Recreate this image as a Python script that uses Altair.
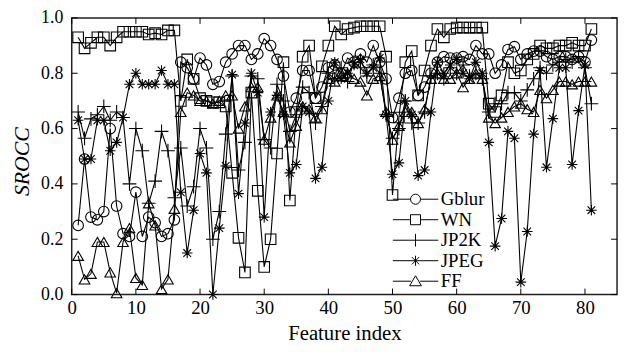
import altair as alt
import pandas as pd

series_names = ["Gblur", "WN", "JP2K", "JPEG", "FF"]
feature_index = list(range(1, 82))

gblur = [0.25, 0.49, 0.28, 0.27, 0.30, 0.60, 0.32, 0.22, 0.21, 0.37,
         0.21, 0.28, 0.26, 0.21, 0.22, 0.27, 0.84, 0.82, 0.78, 0.855,
         0.83, 0.76, 0.77, 0.84, 0.87, 0.90, 0.90, 0.85, 0.87, 0.925,
         0.90, 0.85, 0.79, 0.66, 0.71, 0.81, 0.81, 0.71, 0.75, 0.82,
         0.83, 0.80, 0.855, 0.84, 0.87, 0.84, 0.90, 0.84, 0.78, 0.64,
         0.71, 0.80, 0.81, 0.72, 0.75, 0.80, 0.84, 0.86, 0.855, 0.855,
         0.86, 0.85, 0.90, 0.87, 0.87, 0.80, 0.83, 0.886, 0.896, 0.85,
         0.87, 0.88, 0.88, 0.86, 0.85, 0.86, 0.86, 0.85, 0.86, 0.84, 0.92]
wn = [0.93, 0.89, 0.91, 0.93, 0.93, 0.90, 0.93, 0.95, 0.95, 0.95,
      0.95, 0.94, 0.945, 0.94, 0.955, 0.955, 0.70, 0.85, 0.78, 0.71,
      0.70, 0.695, 0.695, 0.68, 0.44, 0.205, 0.08, 0.73, 0.375, 0.10,
      0.20, 0.51, 0.84, 0.34, 0.66, 0.86, 0.90, 0.71, 0.825, 0.90,
      0.97, 0.94, 0.96, 0.965, 0.97, 0.97, 0.97, 0.97, 0.86, 0.36,
      0.64, 0.84, 0.88, 0.72, 0.81, 0.90, 0.96, 0.93, 0.96, 0.965,
      0.965, 0.965, 0.965, 0.965, 0.69, 0.66, 0.72, 0.84, 0.80, 0.81,
      0.85, 0.87, 0.90, 0.89, 0.89, 0.90, 0.90, 0.91, 0.90, 0.90, 0.96]
jp2k = [0.66, 0.565, 0.635, 0.65, 0.68, 0.63, 0.66, 0.64, 0.40, 0.60,
        0.52, 0.33, 0.41, 0.59, 0.52, 0.35, 0.53, 0.32, 0.39, 0.60,
        0.53, 0.20, 0.30, 0.58, 0.79, 0.45, 0.55, 0.79, 0.78, 0.56,
        0.53, 0.76, 0.70, 0.59, 0.65, 0.75, 0.73, 0.62, 0.68, 0.80,
        0.78, 0.82, 0.77, 0.84, 0.82, 0.79, 0.83, 0.80, 0.65, 0.565,
        0.60, 0.70, 0.62, 0.62, 0.66, 0.79, 0.80, 0.78, 0.82, 0.80,
        0.83, 0.79, 0.80, 0.78, 0.66, 0.69, 0.69, 0.73, 0.73, 0.70,
        0.74, 0.78, 0.82, 0.80, 0.83, 0.84, 0.85, 0.84, 0.86, 0.82, 0.69]
jpeg = [0.63, 0.49, 0.49, 0.63, 0.63, 0.52, 0.55, 0.64, 0.76, 0.80,
        0.76, 0.76, 0.76, 0.81, 0.76, 0.76, 0.37, 0.15, 0.305, 0.51,
        0.44, 0.00, 0.24, 0.465, 0.795, 0.365, 0.62, 0.80, 0.73, 0.28,
        0.66, 0.72, 0.65, 0.44, 0.47, 0.68, 0.66, 0.42, 0.46, 0.70,
        0.84, 0.78, 0.80, 0.83, 0.85, 0.80, 0.82, 0.855, 0.65, 0.435,
        0.476, 0.70, 0.65, 0.43, 0.45, 0.66, 0.84, 0.80, 0.83, 0.85,
        0.80, 0.78, 0.84, 0.80, 0.55, 0.175, 0.275, 0.59, 0.565, 0.045,
        0.228, 0.58, 0.81, 0.46, 0.636, 0.82, 0.82, 0.47, 0.665, 0.83, 0.305]
ff = [0.14, 0.055, 0.075, 0.19, 0.19, 0.08, 0.005, 0.19, 0.24, 0.06,
      0.035, 0.33, 0.25, 0.02, 0.055, 0.31, 0.66, 0.73, 0.72, 0.70,
      0.70, 0.69, 0.70, 0.72, 0.72, 0.60, 0.68, 0.75, 0.75, 0.56,
      0.64, 0.72, 0.66, 0.55, 0.61, 0.68, 0.67, 0.64, 0.67, 0.78,
      0.77, 0.79, 0.80, 0.78, 0.77, 0.72, 0.78, 0.79, 0.66, 0.56,
      0.61, 0.66, 0.66, 0.62, 0.67, 0.78, 0.80, 0.78, 0.78, 0.80,
      0.75, 0.78, 0.80, 0.78, 0.64, 0.62, 0.64, 0.66, 0.68, 0.69,
      0.67, 0.66, 0.74, 0.71, 0.74, 0.77, 0.77, 0.76, 0.77, 0.77, 0.77]

x_ticks = [0, 10, 20, 30, 40, 50, 60, 70, 80]
y_ticks = [0.0, 0.2, 0.4, 0.6, 0.8, 1.0]

values = {"Gblur": gblur, "WN": wn, "JP2K": jp2k, "JPEG": jpeg, "FF": ff}
rows = []
for name in series_names:
    for i, v in zip(feature_index, values[name]):
        rows.append({"Feature": i, "SROCC": v, "Series": name})
df = pd.DataFrame(rows)
legend_df = pd.DataFrame({"Series": series_names})
xt_df = pd.DataFrame({"xt": x_ticks})
yt_df = pd.DataFrame({"yt": y_ticks})

W, H = 552, 280
FONT = "Liberation Serif"

marker_shapes = [
    "circle",
    "square",
    "M-1.3,0H1.3M0,-1.3V1.3",
    "M-1,0H1M0,-1V1M-0.72,-0.72L0.72,0.72M-0.72,0.72L0.72,-0.72",
    "triangle-up",
]
legend_shapes = [
    "M-1,0H-0.22M0.22,0H1M0.22,0A0.22,0.22,0,1,1,-0.22,0A0.22,0.22,0,1,1,0.22,0Z",
    "M-1,0H-0.22M0.22,0H1M-0.22,-0.22H0.22V0.22H-0.22Z",
    "M-1,0H1M0,-0.28V0.28",
    "M-1,0H1M0,-0.22V0.22M-0.16,-0.16L0.16,0.16M-0.16,0.16L0.16,-0.16",
    "M-1,0H-0.2M0.2,0H1M0,-0.24L0.26,0.2H-0.26Z",
]

xscale = alt.Scale(domain=[0, 85], nice=False, zero=False)
yscale = alt.Scale(domain=[0, 1], nice=False)

x_axis = alt.Axis(values=x_ticks, title="Feature index", ticks=False, domain=False,
                  grid=False, labelPadding=4, labelFlush=False, labelOverlap=False,
                  titlePadding=6)
y_axis = alt.Axis(values=y_ticks, format=".1f", title="SROCC", ticks=False, domain=False,
                  grid=False, labelPadding=9, labelFlush=False, labelOverlap=False,
                  titleFontStyle="italic", titlePadding=7, titleY=145)

base = alt.Chart(df)
lines = base.mark_line(color="black", strokeWidth=1.1).encode(
    x=alt.X("Feature:Q", scale=xscale, axis=x_axis),
    y=alt.Y("SROCC:Q", scale=yscale, axis=y_axis),
    detail="Series:N",
    order="Feature:Q",
)
points = base.mark_point(filled=False, color="black", strokeWidth=1.1, size=115, opacity=1).encode(
    x=alt.X("Feature:Q", scale=xscale),
    y=alt.Y("SROCC:Q", scale=yscale),
    shape=alt.Shape("Series:N", scale=alt.Scale(domain=series_names, range=marker_shapes), legend=None),
)
legend_layer = alt.Chart(legend_df).transform_filter("false").mark_point(
    filled=False, color="black", strokeWidth=1, opacity=1
).encode(
    x=alt.X("Feature:Q", scale=xscale),
    y=alt.Y("SROCC:Q", scale=yscale),
    shape=alt.Shape(
        "Series:N",
        scale=alt.Scale(domain=series_names, range=legend_shapes),
        legend=alt.Legend(title=None, orient="none", legendX=324.5, legendY=173.5,
                          symbolSize=2116, clipHeight=20, rowPadding=0.75, padding=0,
                          labelOffset=2, labelFont=FONT, labelFontSize=19,
                          labelColor="black", symbolStrokeColor="black",
                          symbolFillColor="transparent", symbolStrokeWidth=1),
    ),
)

tick_len = 6
xb = alt.Chart(xt_df).mark_rule(color="black", strokeWidth=1).encode(
    x=alt.X("xt:Q", scale=xscale), y=alt.value(H), y2=alt.value(H - tick_len))
xtop = alt.Chart(xt_df).mark_rule(color="black", strokeWidth=1).encode(
    x=alt.X("xt:Q", scale=xscale), y=alt.value(0), y2=alt.value(tick_len))
yl = alt.Chart(yt_df).mark_rule(color="black", strokeWidth=1).encode(
    y=alt.Y("yt:Q", scale=yscale), x=alt.value(0), x2=alt.value(tick_len))
yr = alt.Chart(yt_df).mark_rule(color="black", strokeWidth=1).encode(
    y=alt.Y("yt:Q", scale=yscale), x=alt.value(W), x2=alt.value(W - tick_len))

chart = alt.layer(lines, points, legend_layer, xb, xtop, yl, yr).resolve_scale(
    shape="independent"
).properties(
    width=W, height=H,
    autosize=alt.AutoSizeParams(type="none"),
    padding={"left": 64.5, "top": 8, "right": 4, "bottom": 48},
).configure_view(
    stroke="#222222", strokeWidth=1.5
).configure_axis(
    labelFont=FONT, labelFontSize=19, labelColor="black",
    titleFont=FONT, titleColor="black", titleFontWeight="normal",
).configure_axisX(titleFontSize=21).configure_axisY(titleFontSize=22, labelFontSize=18)

chart.save("out.html", embed_options={"renderer": "svg", "actions": False})
